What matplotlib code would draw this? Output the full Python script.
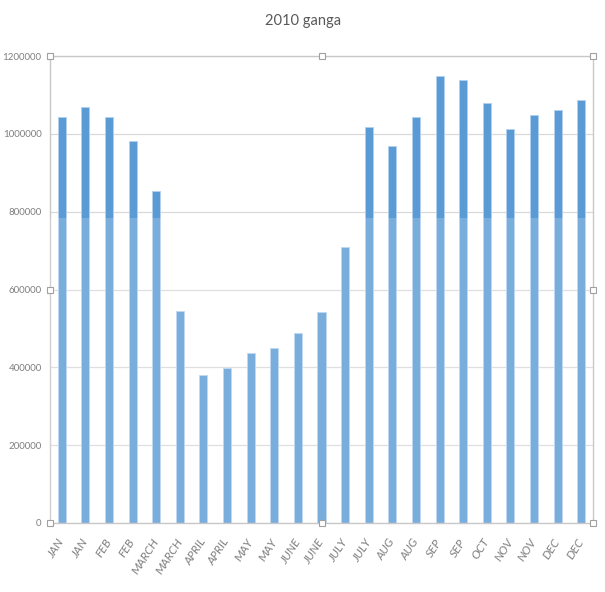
import matplotlib
matplotlib.use("Agg")
import matplotlib.pyplot as plt
import numpy as np

months = ["JAN", "JAN", "FEB", "FEB", "MARCH", "MARCH", "APRIL", "APRIL",
          "MAY", "MAY", "JUNE", "JUNE", "JULY", "JULY", "AUG", "AUG",
          "SEP", "SEP", "OCT", "NOV", "NOV", "DEC", "DEC"]
flow = [1042000, 1070000, 1042000, 982000, 852000, 546000, 381000, 399000,
        437000, 450000, 487000, 542000, 709000, 1018000, 970000, 1042000,
        1149000, 1139000, 1079000, 1012000, 1049000, 1062000, 1088000]
y_ticks = [0, 200000, 400000, 600000, 800000, 1000000, 1200000]

plt.rcParams["font.family"] = ["Lato", "DejaVu Sans"]

fig = plt.figure(figsize=(6.05, 5.92), dpi=100)
ax = fig.add_axes([50 / 605, 1 - 523 / 592, 543 / 605, 467 / 592])

x = np.arange(len(months))
ax.bar(x, flow, width=0.34, color="#5b9bd5", edgecolor="#b3d1ee",
       linewidth=0.6, zorder=2)
# lighter lower band across the columns
ax.axhspan(0, 785000, color="white", alpha=0.18, zorder=3, linewidth=0)

ax.set_xlim(-0.5, len(months) - 0.5)
ax.set_ylim(0, 1200000)
ax.set_yticks(y_ticks)
ax.set_yticklabels([str(v) for v in y_ticks], fontsize=7, color="#7f7f7f")
ax.set_xticks(x)
ax.set_xticklabels(months, rotation=57, ha="right", va="center",
                   rotation_mode="anchor", fontsize=8.5, color="#7f7f7f",
                   style="italic")
ax.tick_params(axis="y", length=0, pad=6)
ax.tick_params(axis="x", length=0, pad=12)

ax.grid(axis="y", color="#d9d9d9", linewidth=0.9, zorder=0)
for side in ("top", "right", "left", "bottom"):
    ax.spines[side].set_color("#c8c8c8")
    ax.spines[side].set_linewidth(1.0)

# selection handles on the plot-area frame
hx = [0, 0.5, 1, 0, 1, 0, 0.5, 1]
hy = [0, 0, 0, 0.5, 0.5, 1, 1, 1]
ax.plot(hx, hy, linestyle="none", marker="s", markersize=4,
        markerfacecolor="white", markeredgecolor="#a0a0a0",
        markeredgewidth=0.8, transform=ax.transAxes, clip_on=False, zorder=5)

fig.text(303 / 605, 1 - 21 / 592, "2010 ganga", ha="center", va="center",
         fontsize=10.5, color="#595959")

fig.savefig("out.png", dpi=100, facecolor="white")
